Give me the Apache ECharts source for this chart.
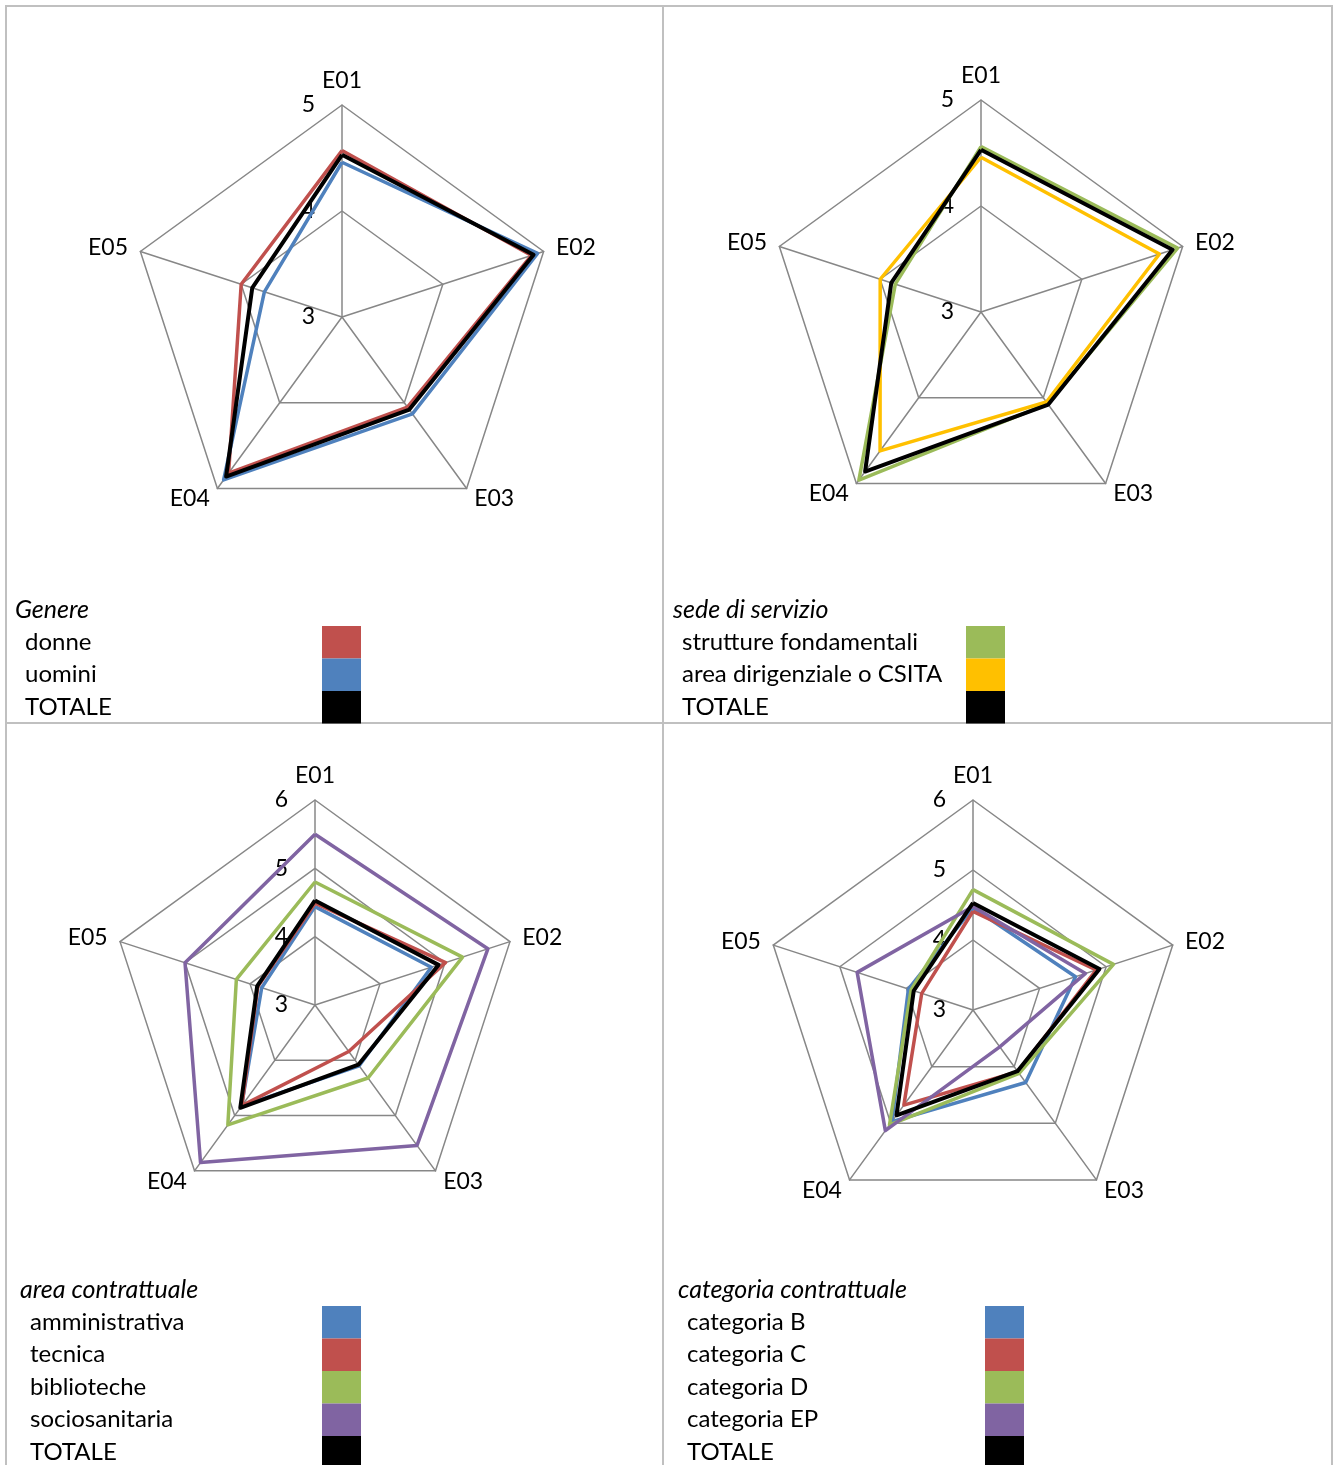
<!DOCTYPE html>
<html>
<head>
<meta charset="utf-8">
<script src="https://cdn.jsdelivr.net/npm/echarts@6/dist/echarts.min.js"></script>
<style>
  html, body { margin: 0; padding: 0; background: #fff; }
  #wrap { position: relative; width: 1334px; height: 1465px; overflow: hidden; }
  .rule { position: absolute; background: #c0c0c0; }
  #chart { position: absolute; left: 0; top: 0; width: 1334px; height: 1520px; }
</style>
</head>
<body>
<div id="wrap">
  <div class="rule" style="left:5px;top:5px;width:1328px;height:2px"></div>
  <div class="rule" style="left:5px;top:5px;width:2px;height:1460px"></div>
  <div class="rule" style="left:1331px;top:5px;width:2px;height:1460px"></div>
  <div class="rule" style="left:662px;top:5px;width:2px;height:1460px"></div>
  <div class="rule" style="left:5px;top:722px;width:1328px;height:2px"></div>
  <div id="chart"></div>
</div>
<script>
// Indicators, in the order E01..E05
const indicators = ['E01', 'E02', 'E03', 'E04', 'E05'];

// Genere
const genereTitle = 'Genere';
const genereNames = ['donne', 'uomini', 'TOTALE'];
const donne   = [4.57, 4.88, 4.05, 4.82, 4.00];
const uomini  = [4.46, 4.94, 4.13, 4.90, 3.77];
const totale  = [4.53, 4.90, 4.08, 4.86, 3.89];

// sede di servizio
const sedeTitle = 'sede di servizio';
const sedeNames = ['strutture fondamentali', 'area dirigenziale o CSITA', 'TOTALE'];
const struttureFondamentali = [4.56, 4.95, 4.07, 4.96, 3.85];
const areaDirigenziale      = [4.46, 4.77, 4.05, 4.62, 4.00];

// area contrattuale
const areaTitle = 'area contrattuale';
const areaNames = ['amministrativa', 'tecnica', 'biblioteche', 'sociosanitaria', 'TOTALE'];
const amministrativa = [4.44, 4.79, 4.10, 4.83, 3.82];
const tecnica        = [4.49, 5.01, 3.84, 4.82, 3.88];
const biblioteche    = [4.80, 5.27, 4.32, 5.17, 4.21];
const sociosanitaria = [5.50, 5.66, 5.54, 5.85, 5.00];

// categoria contrattuale
const categoriaTitle = 'categoria contrattuale';
const categoriaNames = ['categoria B', 'categoria C', 'categoria D', 'categoria EP', 'TOTALE'];
const categoriaB  = [4.46, 4.54, 4.28, 4.97, 3.97];
const categoriaC  = [4.41, 4.85, 4.09, 4.68, 3.77];
const categoriaD  = [4.72, 5.11, 4.12, 5.03, 3.93];
const categoriaEP = [4.48, 4.69, 3.65, 5.13, 4.74];

// Scale ranges for the two rows of panels
const topRange = { min: 3, max: 5, split: 2 };
const bottomRange = { min: 3, max: 6, split: 3 };

const RED = '#C0504D', BLUE = '#4F81BD', GREEN = '#9BBB59',
      GOLD = '#FFC000', PURPLE = '#8064A2', BLACK = '#000000';
const FONT = 'Lato, "Open Sans", sans-serif';
const GRID = '#878787';

// ECharts lays indicators out counter-clockwise; walk E01, E05, E04, E03, E02
// so that the categories run clockwise around the pentagon.
const order = [0, 4, 3, 2, 1];

function buildPanel(idx, p) {
  const radar = {
    center: p.center,
    radius: p.radius,
    startAngle: 90,
    shape: 'polygon',
    splitNumber: p.range.split,
    indicator: order.map((k, j) => {
      const ind = { name: indicators[k], min: p.range.min, max: p.range.max };
      if (j > 0) ind.axisLabel = { show: false };
      return ind;
    }),
    axisName: { color: '#000', fontSize: 23, fontFamily: FONT },
    nameGap: 13,
    axisLine: { lineStyle: { color: GRID, width: 1.5 } },
    splitLine: { lineStyle: { color: GRID, width: 1.5 } },
    splitArea: { show: false },
    axisTick: { show: false },
    axisLabel: { show: true, color: '#000', fontSize: 23, fontFamily: FONT, margin: 27, padding: [4, 0, 0, 0] }
  };
  const series = {
    type: 'radar',
    radarIndex: idx,
    symbol: 'none',
    silent: true,
    data: p.names.map((n, i) => ({
      name: n,
      value: order.map(k => p.values[i][k]),
      itemStyle: { color: p.colors[i] },
      lineStyle: { color: p.colors[i], width: p.colors[i] === BLACK ? 4 : 3.5 }
    }))
  };
  const legend = {
    left: p.legendLeft,
    top: p.legendTop,
    height: 400,
    orient: 'vertical',
    align: 'right',
    padding: 0,
    itemGap: 0,
    itemWidth: 39,
    itemHeight: 32.5,
    icon: 'rect',
    selectedMode: false,
    data: p.names,
    itemStyle: { borderWidth: 0 },
    formatter: n => '{t|' + n + '}',
    textStyle: {
      rich: { t: { width: p.legendTextWidth, align: 'left', fontSize: 24, fontFamily: FONT, color: '#000' } }
    }
  };
  const title = {
    text: p.title,
    left: p.titleLeft,
    top: p.titleTop,
    padding: 0,
    textStyle: { fontStyle: 'italic', fontWeight: 'normal', fontSize: 25, fontFamily: FONT, color: '#000' }
  };
  return { radar, series, legend, title };
}

const panels = [
  { title: genereTitle, names: genereNames, values: [donne, uomini, totale],
    colors: [RED, BLUE, BLACK], range: topRange, center: [342, 317], radius: 212,
    titleLeft: 15, titleTop: 597, legendLeft: 25, legendTop: 626, legendTextWidth: 292 },
  { title: sedeTitle, names: sedeNames, values: [struttureFondamentali, areaDirigenziale, totale],
    colors: [GREEN, GOLD, BLACK], range: topRange, center: [981, 312], radius: 212,
    titleLeft: 673, titleTop: 597, legendLeft: 682, legendTop: 626, legendTextWidth: 279 },
  { title: areaTitle, names: areaNames, values: [amministrativa, tecnica, biblioteche, sociosanitaria, totale],
    colors: [BLUE, RED, GREEN, PURPLE, BLACK], range: bottomRange, center: [315, 1005], radius: 205,
    titleLeft: 20, titleTop: 1277, legendLeft: 30, legendTop: 1306, legendTextWidth: 287 },
  { title: categoriaTitle, names: categoriaNames, values: [categoriaB, categoriaC, categoriaD, categoriaEP, totale],
    colors: [BLUE, RED, GREEN, PURPLE, BLACK], range: bottomRange, center: [973, 1010], radius: 210,
    titleLeft: 678, titleTop: 1277, legendLeft: 687, legendTop: 1306, legendTextWidth: 293 }
];

const built = panels.map((p, i) => buildPanel(i, p));

const chart = echarts.init(document.getElementById('chart'), null, { renderer: 'canvas' });
chart.setOption({
  animation: false,
  backgroundColor: 'transparent',
  title: built.map(b => b.title),
  legend: built.map(b => b.legend),
  radar: built.map(b => b.radar),
  series: built.map(b => b.series)
});
</script>
</body>
</html>
